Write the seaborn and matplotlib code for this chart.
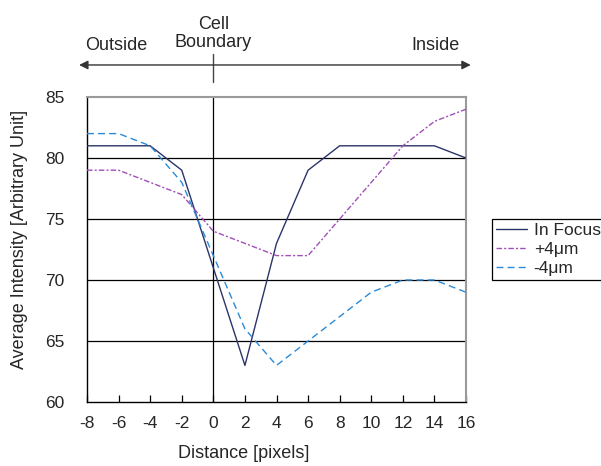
"""Average intensity profile across the cell boundary at three focus offsets."""

import matplotlib
matplotlib.use("Agg")
import matplotlib.pyplot as plt
import pandas as pd
import seaborn as sns

DISTANCE = [-8, -6, -4, -2, 0, 2, 4, 6, 8, 10, 12, 14, 16]
IN_FOCUS = [81, 81, 81, 79, 71, 63, 73, 79, 81, 81, 81, 81, 80]
PLUS_4UM = [79, 79, 78, 77, 74, 73, 72, 72, 75, 78, 81, 83, 84]
MINUS_4UM = [82, 82, 81, 78, 72, 66, 63, 65, 67, 69, 70, 70, 69]

SERIES = ["In Focus", "+4\u03bcm", "-4\u03bcm"]
VALUES = [IN_FOCUS, PLUS_4UM, MINUS_4UM]
COLORS = {"In Focus": "#2b3468", "+4\u03bcm": "#a050b8", "-4\u03bcm": "#2a8ad8"}
DASHES = {"In Focus": "", "+4\u03bcm": (4, 1.5, 1.5, 1.5), "-4\u03bcm": (5, 3)}

Y_TICKS = [60, 65, 70, 75, 80, 85]
X_TICKS = list(range(-8, 17, 2))


def main() -> None:
    sns.set_theme(style="white")
    plt.rcParams["font.family"] = ["Liberation Sans", "DejaVu Sans"]

    df = pd.DataFrame(
        [
            {"distance": d, "intensity": v, "series": name}
            for name, vals in zip(SERIES, VALUES)
            for d, v in zip(DISTANCE, vals)
        ]
    )

    fig = plt.figure(figsize=(6.01, 4.66), dpi=100)
    ax = fig.add_axes([87 / 601, 64 / 466, 379 / 601, 305 / 466])

    for y in Y_TICKS[1:-1]:
        ax.axhline(y, color="black", lw=0.9, zorder=1)
    ax.axvline(0, color="black", lw=0.9, zorder=1)

    sns.lineplot(
        data=df, x="distance", y="intensity", hue="series", style="series",
        hue_order=SERIES, style_order=SERIES, palette=COLORS, dashes=DASHES,
        linewidth=1.0, ax=ax, zorder=3,
    )

    ax.set_xlim(-8, 16)
    ax.set_ylim(60, 85)
    ax.set_xticks(X_TICKS, labels=[str(x) for x in X_TICKS])
    ax.set_yticks(Y_TICKS, labels=[str(y) for y in Y_TICKS])
    ax.tick_params(axis="x", direction="in", length=5, width=0.9, color="black",
                   labelsize=12.5, pad=10, bottom=True)
    ax.tick_params(axis="y", length=0, labelsize=12.5, pad=16)
    ax.set_xlabel("Distance [pixels]", fontsize=13)
    ax.set_ylabel("Average Intensity [Arbitrary Unit]", fontsize=13)
    ax.xaxis.set_label_coords((244 - 87) / 379, -0.14)
    ax.yaxis.set_label_coords(-0.155, 0.534)

    for side in ("left", "bottom"):
        ax.spines[side].set_color("black")
        ax.spines[side].set_linewidth(1.0)
    for side in ("top", "right"):
        ax.spines[side].set_color("#9a9a9a")
        ax.spines[side].set_linewidth(1.5)

    # direction arrow and cell-boundary marker above the plot
    trans = ax.get_xaxis_transform()
    ax.annotate("", xy=(-8.5, 1.105), xytext=(16.3, 1.105), xycoords=trans,
                textcoords=trans,
                arrowprops=dict(arrowstyle="<|-|>", color="#333333", lw=1.0,
                                mutation_scale=13, shrinkA=0, shrinkB=0))
    ax.plot([0, 0], [1.049, 1.141], transform=trans, color="#444444", lw=1.0,
            clip_on=False)
    ax.text(-6.15, 1.17, "Outside", transform=trans, ha="center", va="center",
            fontsize=13)
    ax.text(0, 1.208, "Cell\nBoundary", transform=trans, ha="center", va="center",
            fontsize=13, linespacing=1.1)
    ax.text(14.1, 1.17, "Inside", transform=trans, ha="center", va="center",
            fontsize=13)

    handles, labels = ax.get_legend_handles_labels()
    ax.legend(handles, labels, loc="upper left", bbox_to_anchor=(492 / 601, 1 - 219 / 466),
              bbox_transform=fig.transFigure, frameon=True, fancybox=False,
              edgecolor="black", framealpha=1, fontsize=12.5, handlelength=1.75,
              borderpad=0.25, labelspacing=0.2, handletextpad=0.4, borderaxespad=0)
    ax.get_legend().get_frame().set_linewidth(0.9)

    fig.savefig("out.png", dpi=100)
    plt.close(fig)


if __name__ == "__main__":
    main()
